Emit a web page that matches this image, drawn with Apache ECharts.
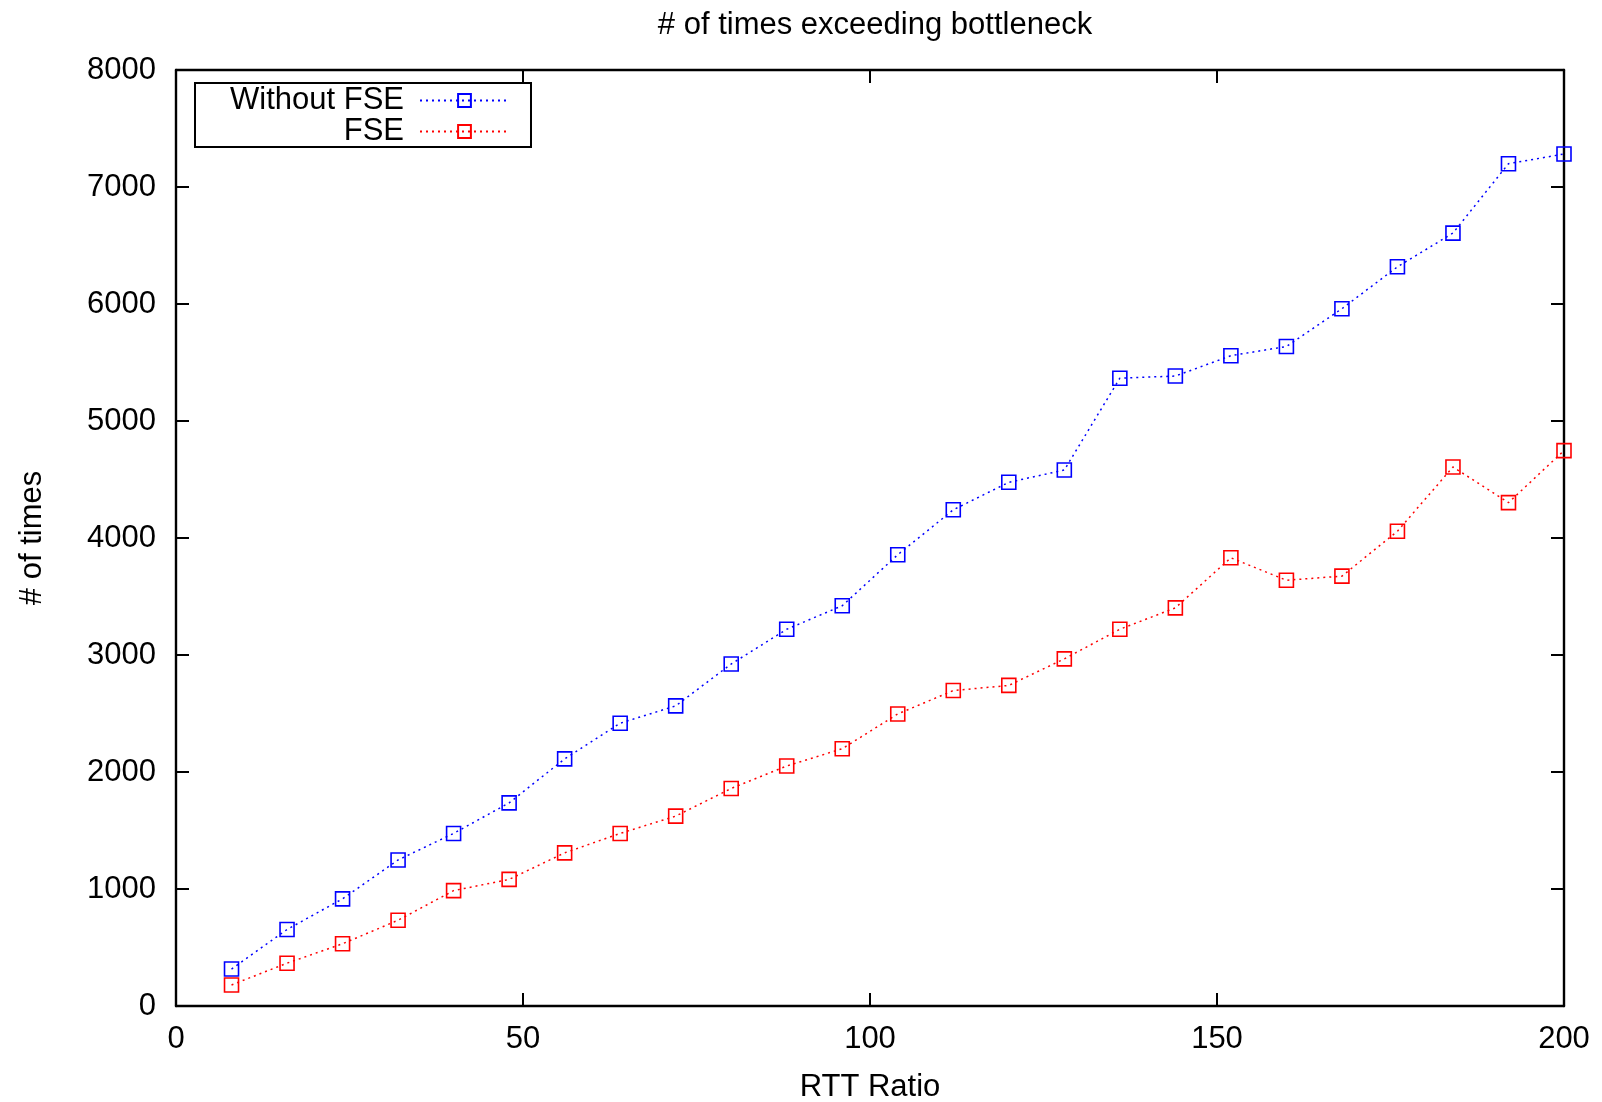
<!DOCTYPE html>
<html>
<head>
<meta charset="utf-8">
<script src="https://cdn.jsdelivr.net/npm/echarts@6/dist/echarts.min.js"></script>
<style>
html,body{margin:0;padding:0;background:#fff;}
#chart{width:1602px;height:1102px;}
</style>
</head>
<body>
<div id="chart"></div>
<script>
const rttRatio = [8,16,24,32,40,48,56,64,72,80,88,96,104,112,120,128,136,144,152,160,168,176,184,192,200];
const withoutFSE = [316,654,916,1248,1475,1736,2112,2417,2565,2923,3220,3421,3857,4241,4476,4581,5366,5384,5558,5637,5960,6318,6606,7199,7282];
const withFSE = [180,366,532,733,986,1082,1309,1475,1623,1859,2051,2199,2496,2696,2740,2967,3220,3403,3831,3639,3674,4058,4607,4302,4747];
const seriesNames = ['Without FSE','FSE'];
const titleText = '# of times exceeding bottleneck';
const xName = 'RTT Ratio';
const yName = '# of times';

const FONT = 'Liberation Sans, Arial, Helvetica, sans-serif';
const FS = 31;
const chart = echarts.init(document.getElementById('chart'), null, {renderer:'canvas'});

function pairs(xs, ys){ return xs.map((x,i)=>[x, ys[i]]); }

function mkSeries(name, data, color){
  return {
    name: name,
    type: 'line',
    xAxisIndex: 0, yAxisIndex: 0,
    data: pairs(rttRatio, data),
    symbol: 'rect',
    symbolSize: 14,
    showSymbol: true,
    lineStyle: {color: color, width: 1.5, type: [2,4]},
    itemStyle: {color: 'rgba(255,255,255,0)', borderColor: color, borderWidth: 1.6},
    emphasis: {disabled: true},
    animation: false
  };
}

function axLine(){ return {show: true, onZero: false, lineStyle: {color: '#000', width: 2.4}}; }
function axTick(){ return {show: true, inside: true, length: 13, lineStyle: {color: '#000', width: 2}}; }
function labelFmt(v){ return String(v); }

chart.setOption({
  backgroundColor: '#fff',
  animation: false,
  title: {
    text: titleText,
    left: 870,
    textAlign: 'center',
    top: 5,
    textStyle: {fontFamily: FONT, fontSize: FS, fontWeight: 'normal', color: '#000'}
  },
  legend: {
    data: seriesNames,
    orient: 'vertical',
    left: 195,
    top: 83,
    align: 'right',
    itemWidth: 89,
    itemHeight: 16,
    itemGap: 0,
    padding: [2, 21, 0, 35],
    borderColor: '#000',
    borderWidth: 2,
    backgroundColor: '#fff',
    textStyle: {fontFamily: FONT, fontSize: FS, color: '#000', lineHeight: 31, padding: [0, 11, 0, 0]}
  },
  grid: {left: 176, right: 38, top: 70, bottom: 96, containLabel: false, outerBoundsMode: 'none'},
  xAxis: [{
    type: 'value', min: 0, max: 200, interval: 50, position: 'bottom',
    name: xName, nameLocation: 'middle', nameGap: 66,
    nameTextStyle: {fontFamily: FONT, fontSize: FS, color: '#000'},
    axisLine: axLine(), axisTick: axTick(),
    axisLabel: {fontFamily: FONT, fontSize: FS, color: '#000', margin: 18, formatter: labelFmt},
    splitLine: {show: false}
  },{
    type: 'value', min: 0, max: 200, interval: 50, position: 'top',
    axisLine: axLine(), axisTick: axTick(),
    axisLabel: {show: false}, splitLine: {show: false}
  }],
  yAxis: [{
    type: 'value', min: 0, max: 8000, interval: 1000, position: 'left',
    name: yName, nameLocation: 'middle', nameGap: 128, nameRotate: 90,
    nameTextStyle: {fontFamily: FONT, fontSize: FS, color: '#000'},
    axisLine: axLine(), axisTick: axTick(),
    axisLabel: {fontFamily: FONT, fontSize: FS, color: '#000', margin: 20, formatter: labelFmt},
    splitLine: {show: false}
  },{
    type: 'value', min: 0, max: 8000, interval: 1000, position: 'right',
    axisLine: axLine(), axisTick: axTick(),
    axisLabel: {show: false}, splitLine: {show: false}
  }],
  series: [
    mkSeries(seriesNames[0], withoutFSE, '#0000ff'),
    mkSeries(seriesNames[1], withFSE, '#ff0000')
  ]
});
</script>
</body>
</html>
